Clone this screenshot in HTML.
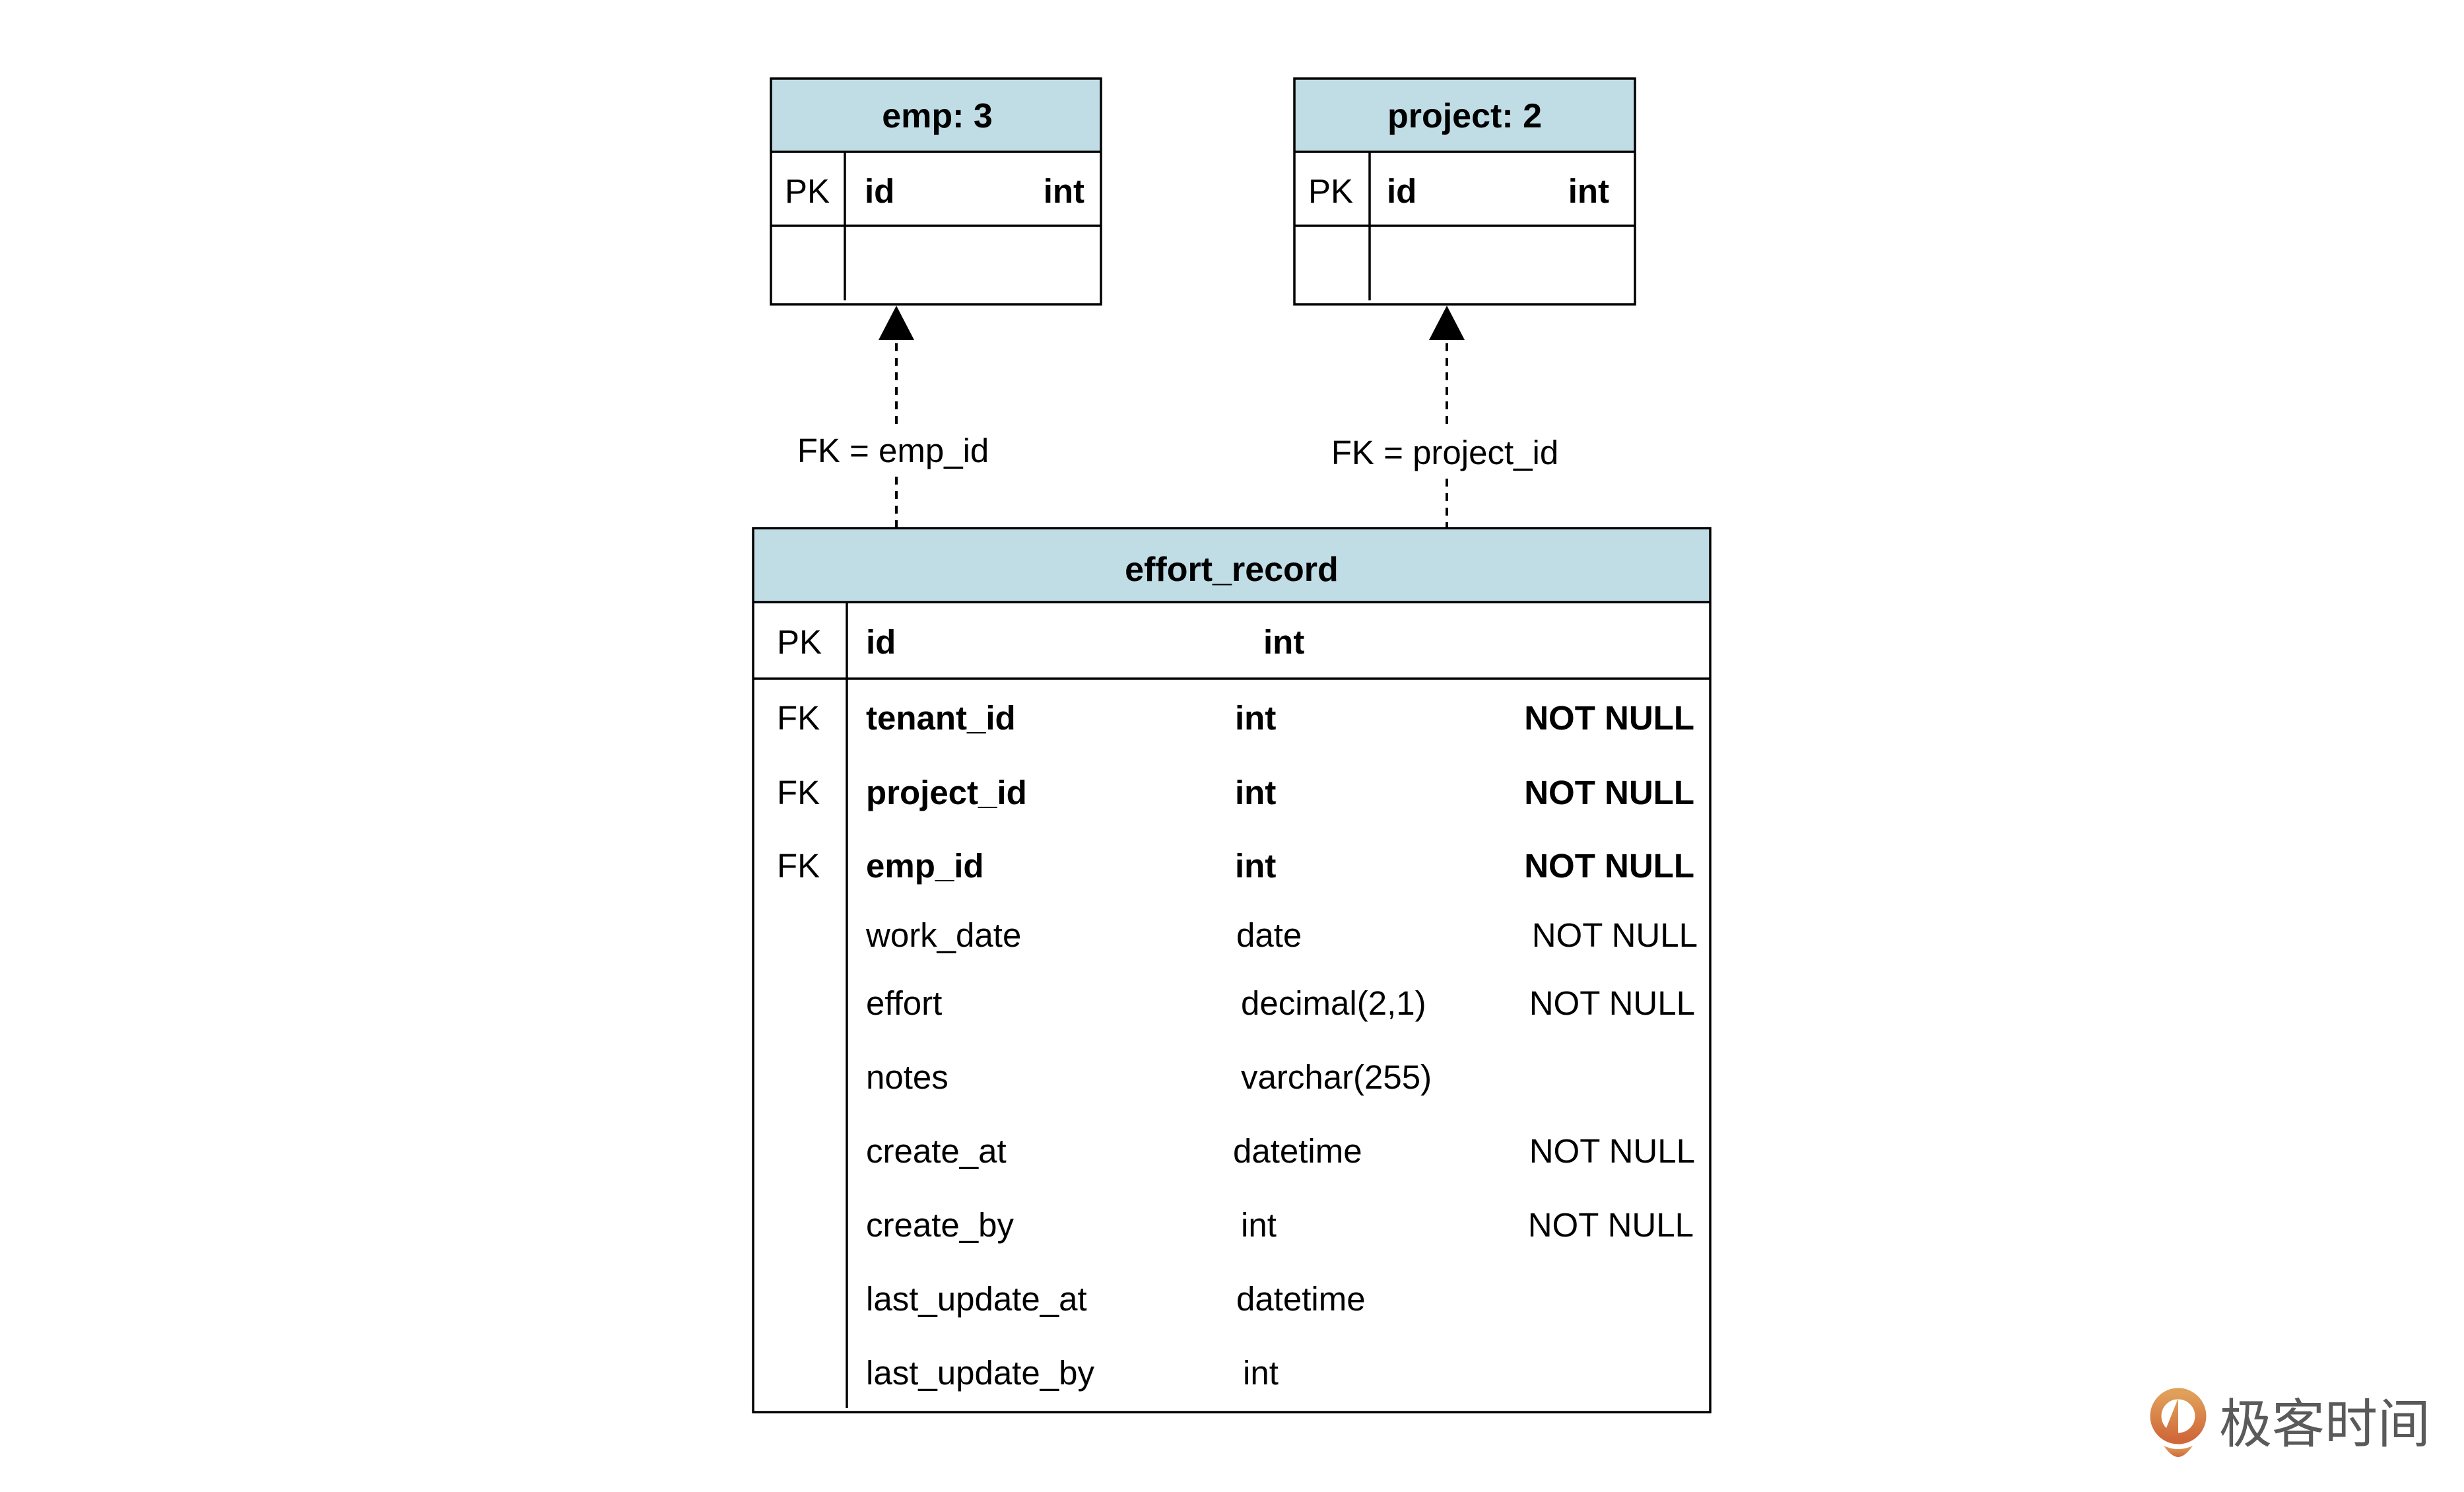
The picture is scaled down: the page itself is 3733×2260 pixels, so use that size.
<!DOCTYPE html>
<html><head><meta charset="utf-8"><style>
html,body{margin:0;padding:0;background:#fff;}
svg{display:block;}
text{font-family:"Liberation Sans",Arial,sans-serif;font-size:51px;fill:#000;}
.b{font-weight:bold;}
.h{font-weight:bold;font-size:52px;}
</style></head><body>
<svg width="3733" height="2260" viewBox="0 0 3733 2260" xmlns="http://www.w3.org/2000/svg">
<rect width="3733" height="2260" fill="#fff"/>
<!-- emp -->
<rect x="1168" y="119" width="500" height="111" fill="#c0dde6"/>
<rect x="1168" y="119" width="500" height="342" fill="none" stroke="#000" stroke-width="3.5"/>
<line x1="1168" y1="230" x2="1668" y2="230" stroke="#000" stroke-width="3.5"/>
<line x1="1168" y1="342" x2="1668" y2="342" stroke="#000" stroke-width="3.5"/>
<line x1="1280" y1="230" x2="1280" y2="455" stroke="#000" stroke-width="3.5"/>
<text class="h" x="1420" y="193" text-anchor="middle">emp: 3</text>
<text x="1189" y="307">PK</text>
<text class="b" x="1310" y="307">id</text>
<text class="b" x="1643" y="307" text-anchor="end">int</text>
<!-- project -->
<rect x="1961" y="119" width="516" height="111" fill="#c0dde6"/>
<rect x="1961" y="119" width="516" height="342" fill="none" stroke="#000" stroke-width="3.5"/>
<line x1="1961" y1="230" x2="2477" y2="230" stroke="#000" stroke-width="3.5"/>
<line x1="1961" y1="342" x2="2477" y2="342" stroke="#000" stroke-width="3.5"/>
<line x1="2075" y1="230" x2="2075" y2="455" stroke="#000" stroke-width="3.5"/>
<text class="h" x="2219" y="193" text-anchor="middle">project: 2</text>
<text x="1982" y="307">PK</text>
<text class="b" x="2101" y="307">id</text>
<text class="b" x="2438" y="307" text-anchor="end">int</text>
<!-- connectors -->
<line x1="1358" y1="520" x2="1358" y2="648" stroke="#000" stroke-width="4" stroke-dasharray="12,10"/>
<line x1="1358" y1="722" x2="1358" y2="800" stroke="#000" stroke-width="4" stroke-dasharray="12,10"/>
<polygon points="1358,463 1331,515 1385,515" fill="#000"/>
<text x="1353" y="700" text-anchor="middle">FK = emp_id</text>
<line x1="2192" y1="520" x2="2192" y2="650" stroke="#000" stroke-width="4" stroke-dasharray="12,10"/>
<line x1="2192" y1="725" x2="2192" y2="800" stroke="#000" stroke-width="4" stroke-dasharray="12,10"/>
<polygon points="2192,463 2165,515 2219,515" fill="#000"/>
<text x="2189" y="703" text-anchor="middle">FK = project_id</text>
<!-- effort_record -->
<rect x="1141" y="800" width="1450" height="112" fill="#c0dde6"/>
<rect x="1141" y="800" width="1450" height="1339" fill="none" stroke="#000" stroke-width="3.5"/>
<line x1="1141" y1="912" x2="2591" y2="912" stroke="#000" stroke-width="3.5"/>
<line x1="1141" y1="1028" x2="2591" y2="1028" stroke="#000" stroke-width="3.5"/>
<line x1="1283" y1="912" x2="1283" y2="2133" stroke="#000" stroke-width="3.5"/>
<text class="h" x="1866" y="880" text-anchor="middle">effort_record</text>
<text x="1177" y="990">PK</text>
<text class="b" x="1312" y="990">id</text>
<text class="b" x="1914" y="990">int</text>

<text x="1177" y="1105">FK</text>
<text class="b" x="1312" y="1105">tenant_id</text>
<text class="b" x="1871" y="1105">int</text>
<text class="b" x="2567" y="1105" text-anchor="end">NOT NULL</text>

<text x="1177" y="1218">FK</text>
<text class="b" x="1312" y="1218">project_id</text>
<text class="b" x="1871" y="1218">int</text>
<text class="b" x="2567" y="1218" text-anchor="end">NOT NULL</text>

<text x="1177" y="1329">FK</text>
<text class="b" x="1312" y="1329">emp_id</text>
<text class="b" x="1871" y="1329">int</text>
<text class="b" x="2567" y="1329" text-anchor="end">NOT NULL</text>

<text x="1312" y="1434">work_date</text>
<text x="1873" y="1434">date</text>
<text x="2572" y="1434" text-anchor="end">NOT NULL</text>

<text x="1312" y="1537">effort</text>
<text x="1880" y="1537">decimal(2,1)</text>
<text x="2568" y="1537" text-anchor="end">NOT NULL</text>

<text x="1312" y="1649">notes</text>
<text x="1880" y="1649">varchar(255)</text>

<text x="1312" y="1761">create_at</text>
<text x="1868" y="1761">datetime</text>
<text x="2568" y="1761" text-anchor="end">NOT NULL</text>

<text x="1312" y="1873">create_by</text>
<text x="1880" y="1873">int</text>
<text x="2566" y="1873" text-anchor="end">NOT NULL</text>

<text x="1312" y="1985">last_update_at</text>
<text x="1873" y="1985">datetime</text>

<text x="1312" y="2097">last_update_by</text>
<text x="1883" y="2097">int</text>

<!-- logo -->
<defs><linearGradient id="g" x1="0" y1="0" x2="0" y2="1"><stop offset="0" stop-color="#e0a05a"/><stop offset="1" stop-color="#d0683a"/></linearGradient></defs>
<circle cx="3300" cy="2145" r="34" fill="none" stroke="url(#g)" stroke-width="17"/>
<path d="M3300 2118 L3300 2180 L3280 2168 Z" fill="url(#g)"/>
<path d="M3278 2190 Q3300 2200 3322 2190 Q3310 2207 3300 2207 Q3290 2207 3278 2190 Z" fill="url(#g)"/>
<text x="3362" y="2185" style="font-family:'Noto Sans CJK SC',sans-serif;font-size:80px;fill:#5a5a5a;">极客时间</text>
</svg>
</body></html>
